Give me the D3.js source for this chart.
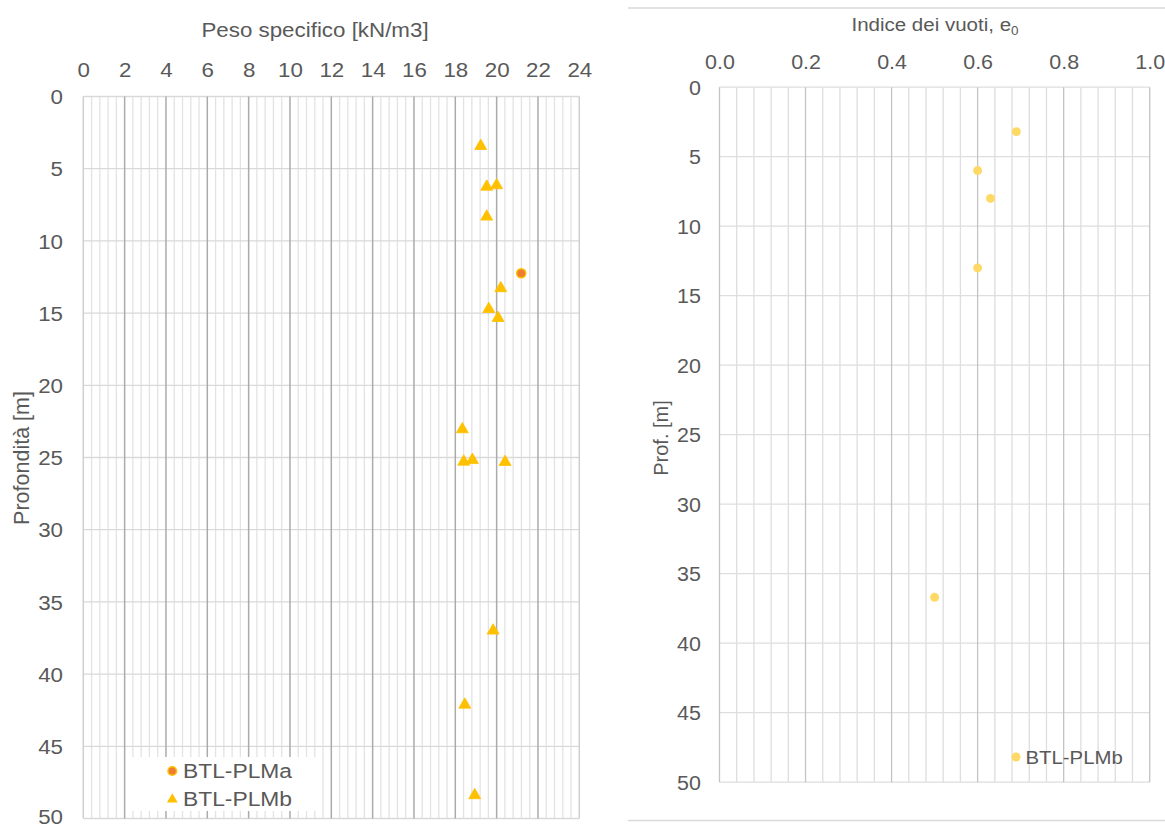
<!DOCTYPE html>
<html><head><meta charset="utf-8">
<script src="https://cdn.jsdelivr.net/npm/d3@7/dist/d3.min.js"></script>
<style>
body{margin:0;background:#fff;}
text{font-family:"Liberation Sans",Arial,sans-serif;fill:#595959;}
</style></head>
<body><svg id="c" width="1165" height="828"></svg>
<script>
// ---- Left chart data: Peso specifico vs depth
const plmaGamma = [21.19];
const plmaDepth = [12.24];
const plmbGamma = [19.23, 19.52, 20.0, 19.52, 20.2, 19.62, 20.07, 18.34, 18.41, 18.83, 20.41, 19.83, 18.46, 18.94];
const plmbDepth = [3.43, 6.25, 6.15, 8.32, 13.28, 14.72, 15.34, 23.05, 25.29, 25.17, 25.31, 36.99, 42.12, 48.39];
const leftXTicks = [0, 2, 4, 6, 8, 10, 12, 14, 16, 18, 20, 22, 24];
const depthTicks = [0, 5, 10, 15, 20, 25, 30, 35, 40, 45, 50];
// ---- Right chart data: Indice dei vuoti vs depth
const voidIndex = [0.69, 0.60, 0.63, 0.60, 0.50];
const voidDepth = [3.2, 6.0, 8.0, 13.0, 36.7];
const rightXTicks = [0.0, 0.2, 0.4, 0.6, 0.8, 1.0];

const svg = d3.select("#c");
const FF = '"Liberation Sans",Arial,sans-serif';

function stretchedText(g, x, y, txt, size, sx, anchor) {
  return g.append("text").attr("transform", `translate(${x},${y}) scale(${sx},1)`)
    .attr("text-anchor", anchor || "start").style("font-size", size + "px").text(txt);
}

// ================= LEFT CHART =================
const L = {x0: 83.3, x1: 579.3, y0: 96.5, y1: 818.5};
const xL = d3.scaleLinear().domain([0, 24]).range([L.x0, L.x1]);
const yL = d3.scaleLinear().domain([0, 50]).range([L.y0, L.y1]);
const gL = svg.append("g");

gL.append("g").selectAll("line").data(d3.range(0, 61).map(i => i * 0.4).filter((v, i) => i % 5 !== 0))
  .join("line").attr("x1", d => xL(d)).attr("x2", d => xL(d)).attr("y1", L.y0).attr("y2", L.y1)
  .attr("stroke", "#e3e3e3").attr("stroke-width", 1.3);
gL.append("g").selectAll("line").data(depthTicks)
  .join("line").attr("x1", L.x0).attr("x2", L.x1).attr("y1", d => yL(d)).attr("y2", d => yL(d))
  .attr("stroke", "#d9d9d9").attr("stroke-width", 1.3);
gL.append("g").selectAll("line").data(leftXTicks)
  .join("line").attr("x1", d => xL(d)).attr("x2", d => xL(d)).attr("y1", L.y0).attr("y2", L.y1)
  .attr("stroke", d => (d === 0 || d === 24) ? "#cfcfcf" : "#ababab").attr("stroke-width", 1.5);

const axL = gL.append("g").attr("transform", `translate(0,${L.y0})`)
  .call(d3.axisTop(xL).tickValues(leftXTicks).tickSize(0).tickPadding(20).tickFormat(d3.format("d")));
const ayL = gL.append("g").attr("transform", `translate(${L.x0},0)`)
  .call(d3.axisLeft(yL).tickValues(depthTicks).tickSize(0).tickPadding(18.6).tickFormat(d3.format("d")));
[axL, ayL].forEach(a => { a.select(".domain").remove(); a.selectAll("text").style("font-size", "20.5px").attr("fill", "#595959").style("font-family", FF).attr("transform", "scale(1.09,1)"); });
ayL.selectAll("text").attr("dy", "0.35em");
ayL.selectAll(".tick").filter(d => d === 50).select("text").attr("dy", "0.22em");

stretchedText(gL, 315, 37, "Peso specifico [kN/m3]", 20.5, 1.09, "middle");
gL.append("text").attr("transform", `translate(29,458) rotate(-90)`).attr("text-anchor", "middle")
  .style("font-size", "21.5px").text("Profondità [m]");

const tri = d3.symbol().type(d3.symbolTriangle).size(62);
gL.append("g").selectAll("path").data(plmbGamma.map((g, i) => [g, plmbDepth[i]]))
  .join("path").attr("d", tri).attr("transform", d => `translate(${xL(d[0])},${yL(d[1])})`)
  .attr("fill", "#FFC000").attr("stroke", "#FFC000").attr("stroke-width", 0.8);
gL.append("g").selectAll("circle").data(plmaGamma.map((g, i) => [g, plmaDepth[i]]))
  .join("circle").attr("cx", d => xL(d[0])).attr("cy", d => yL(d[1])).attr("r", 4.6)
  .attr("fill", "#ED7D31").attr("stroke", "#FFC000").attr("stroke-width", 1.5);

const lg = gL.append("g");
lg.append("rect").attr("x", 126).attr("y", 757).attr("width", 196).attr("height", 54).attr("fill", "#fff");
lg.append("circle").attr("cx", 172.3).attr("cy", 771).attr("r", 4.3).attr("fill", "#ED7D31").attr("stroke", "#FFC000").attr("stroke-width", 1.5);
stretchedText(lg, 183, 777.5, "BTL-PLMa", 19.5, 1.17);
lg.append("path").attr("d", d3.symbol().type(d3.symbolTriangle).size(50)).attr("transform", "translate(172.3,799.5)").attr("fill", "#FFC000");
stretchedText(lg, 183, 806, "BTL-PLMb", 19.5, 1.17);

// ================= RIGHT CHART =================
svg.append("line").attr("x1", 628).attr("x2", 1165).attr("y1", 8).attr("y2", 8).attr("stroke", "#d9d9d9").attr("stroke-width", 1.3);
svg.append("line").attr("x1", 628).attr("x2", 1165).attr("y1", 820.5).attr("y2", 820.5).attr("stroke", "#d9d9d9").attr("stroke-width", 1.3);

const R = {x0: 719.5, x1: 1149.7, y0: 87.2, y1: 782.2};
const xR = d3.scaleLinear().domain([0, 1]).range([R.x0, R.x1]);
const yR = d3.scaleLinear().domain([0, 50]).range([R.y0, R.y1]);
const gR = svg.append("g");

gR.append("g").selectAll("line").data(d3.range(0, 26).map(i => i * 0.04).filter((v, i) => i % 5 !== 0))
  .join("line").attr("x1", d => xR(d)).attr("x2", d => xR(d)).attr("y1", R.y0).attr("y2", R.y1)
  .attr("stroke", "#dedede").attr("stroke-width", 1.3);
gR.append("g").selectAll("line").data(depthTicks)
  .join("line").attr("x1", R.x0).attr("x2", R.x1).attr("y1", d => yR(d)).attr("y2", d => yR(d))
  .attr("stroke", "#dedede").attr("stroke-width", 1.3);
gR.append("g").selectAll("line").data(rightXTicks)
  .join("line").attr("x1", d => xR(d)).attr("x2", d => xR(d)).attr("y1", R.y0).attr("y2", R.y1)
  .attr("stroke", "#c4c4c4").attr("stroke-width", 1.3);

const axR = gR.append("g").attr("transform", `translate(0,${R.y0})`)
  .call(d3.axisTop(xR).tickValues(rightXTicks).tickSize(0).tickPadding(18.5).tickFormat(d3.format(".1f")));
const ayR = gR.append("g").attr("transform", `translate(${R.x0},0)`)
  .call(d3.axisLeft(yR).tickValues(depthTicks).tickSize(0).tickPadding(17).tickFormat(d3.format("d")));
[axR, ayR].forEach(a => { a.select(".domain").remove(); a.selectAll("text").style("font-size", "19.5px").attr("fill", "#595959").style("font-family", FF).attr("transform", "scale(1.1,1)"); });
ayR.selectAll("text").attr("dy", "0.35em");

const tR = gR.append("text").attr("transform", "translate(935,31) scale(1.08,1)").attr("text-anchor", "middle").style("font-size", "19px");
tR.append("tspan").text("Indice dei vuoti, e");
tR.append("tspan").attr("dy", 4).style("font-size", "12.5px").text("0");
gR.append("text").attr("transform", `translate(668,438) rotate(-90)`).attr("text-anchor", "middle")
  .style("font-size", "20px").text("Prof. [m]");

gR.append("g").selectAll("circle").data(voidIndex.map((v, i) => [v, voidDepth[i]]))
  .join("circle").attr("cx", d => xR(d[0])).attr("cy", d => yR(d[1])).attr("r", 4.5)
  .attr("fill", "#FFD966");

gR.append("circle").attr("cx", 1016).attr("cy", 757).attr("r", 4.5).attr("fill", "#FFD966");
stretchedText(gR, 1025.5, 764, "BTL-PLMb", 18.5, 1.1);
</script></body></html>
